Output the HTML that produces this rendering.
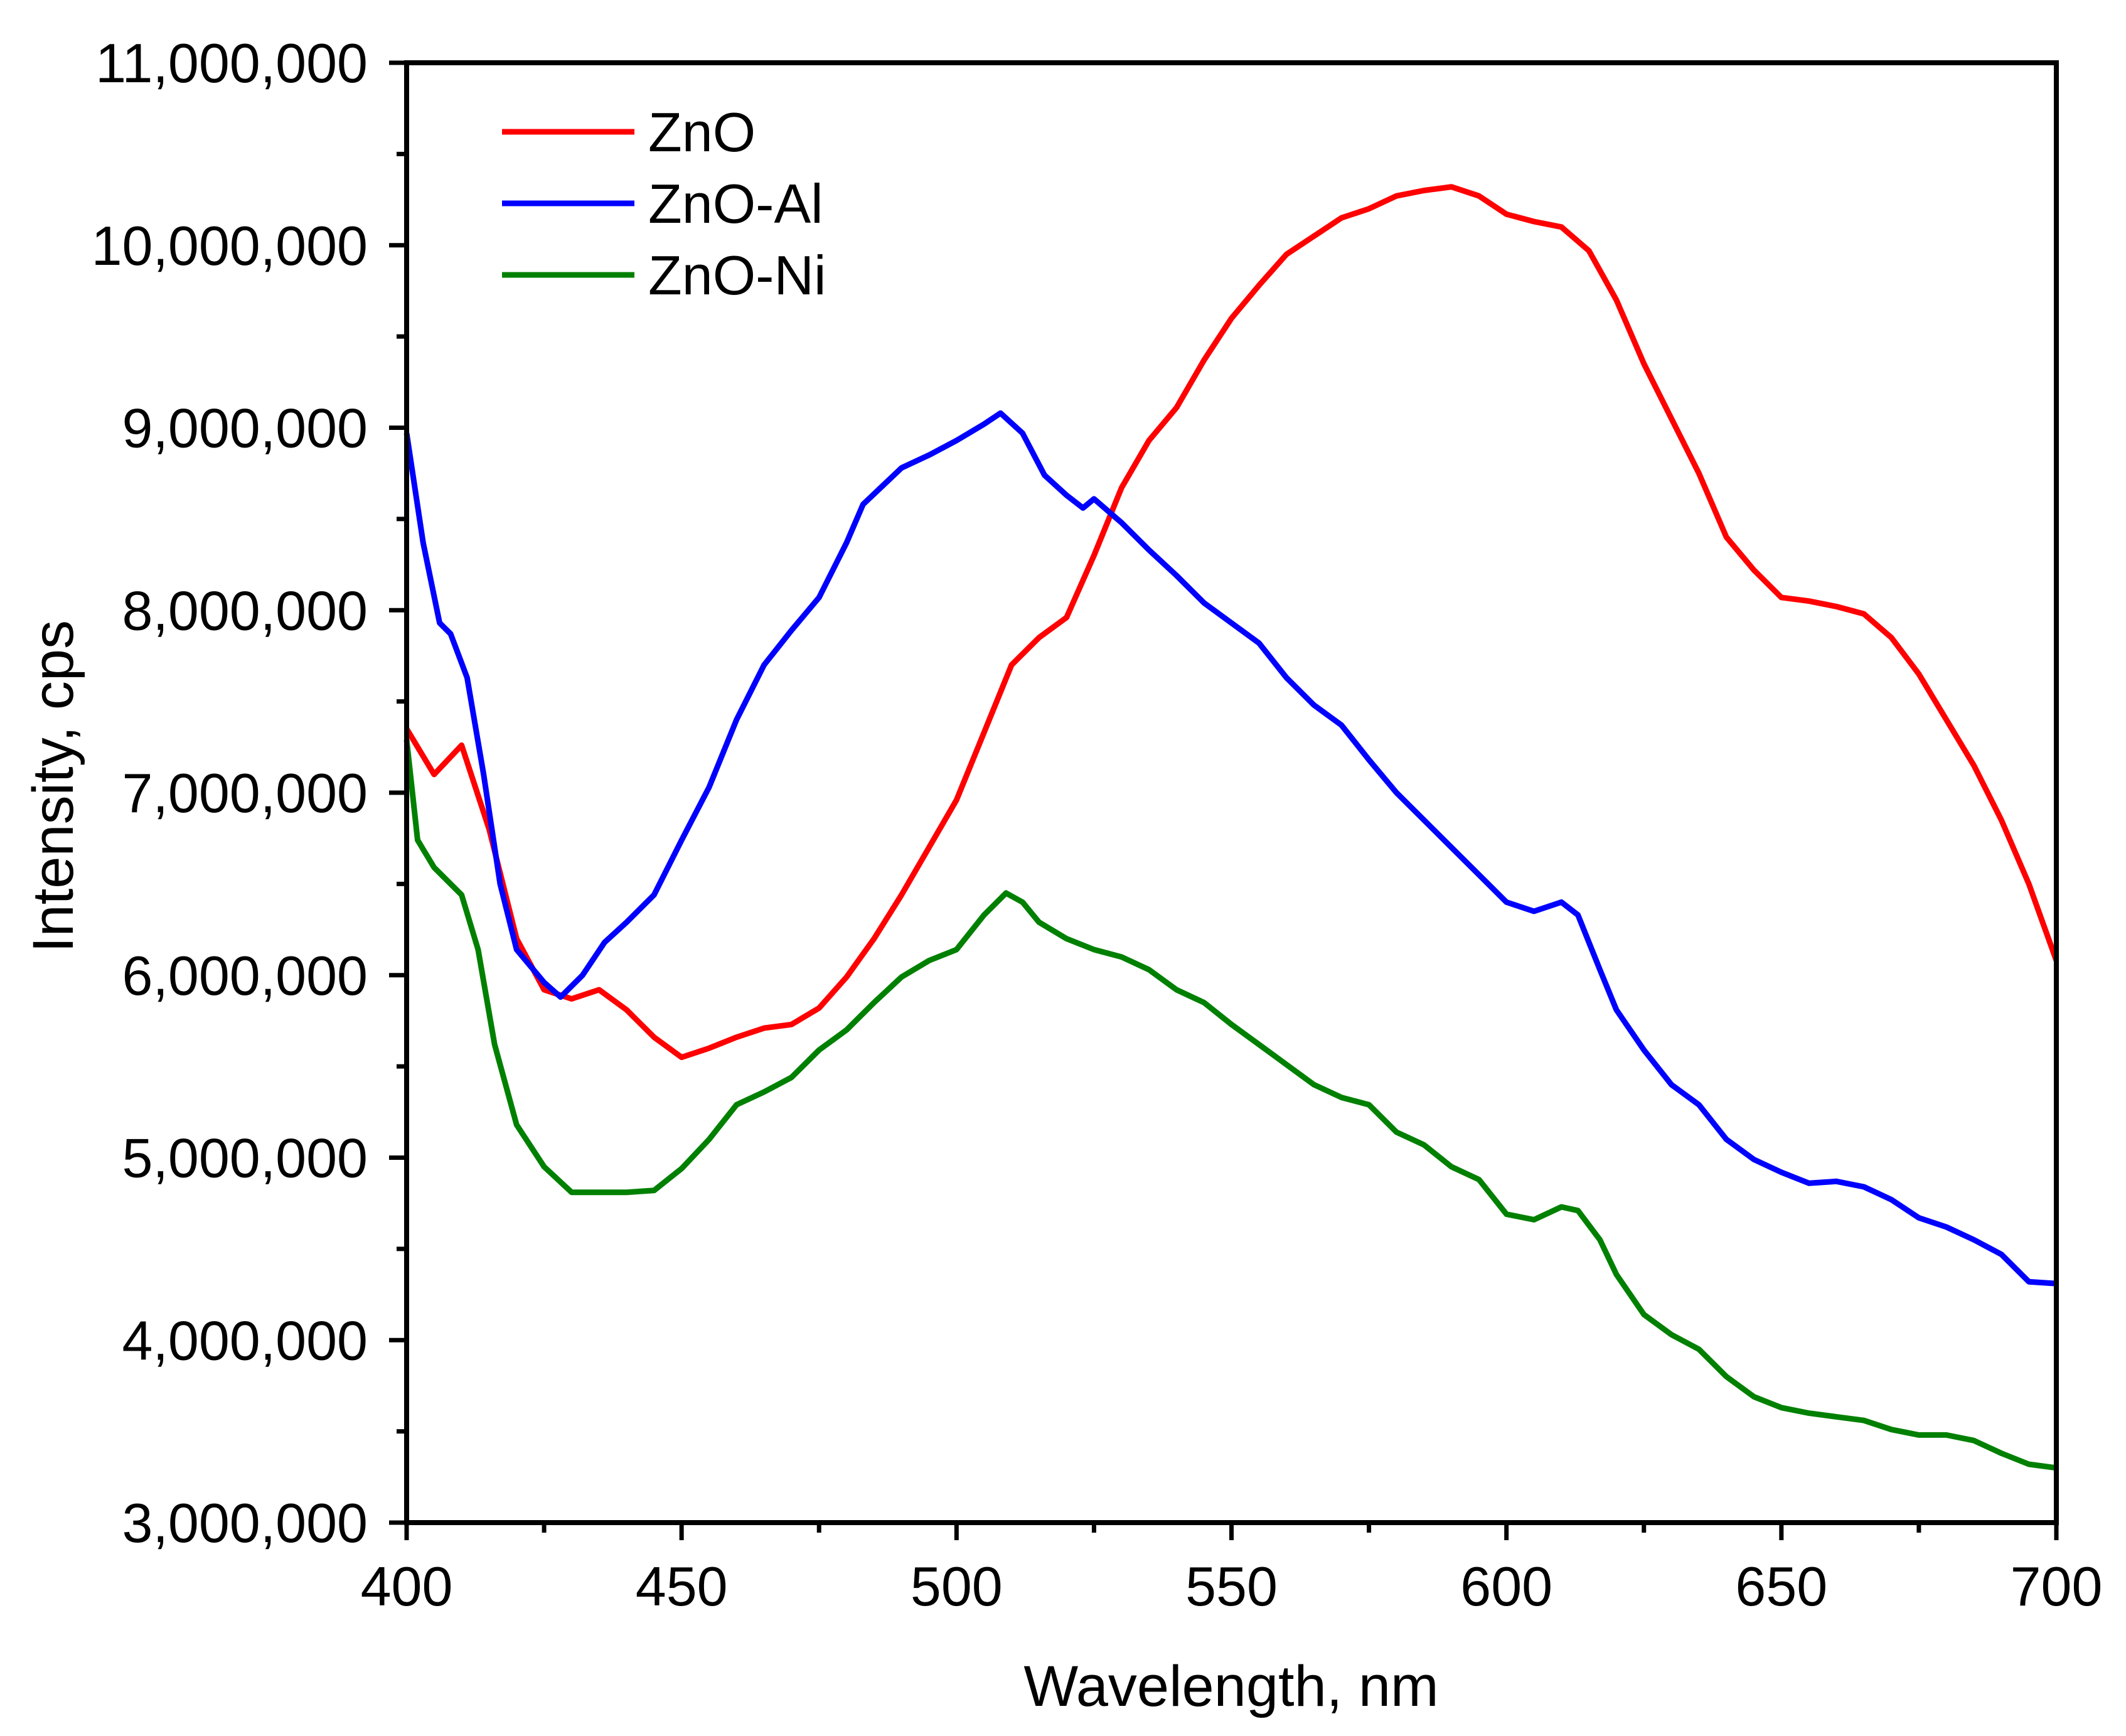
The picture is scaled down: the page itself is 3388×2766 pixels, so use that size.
<!DOCTYPE html>
<html><head><meta charset="utf-8"><style>
html,body{margin:0;padding:0;background:#fff;}
svg{display:block;font-family:"Liberation Sans",Arial,sans-serif;}
</style></head><body>
<svg id="chart" width="3388" height="2766" viewBox="0 0 3388 2766"></svg>
<script>
const wl = [400,405,410,415,420,425,430,435,440,445,450,455,460,465,470,475,480,485,490,495,500,505,510,515,520,525,530,535,540,545,550,555,560,565,570,575,580,585,590,595,600,605,610,615,620,625,630,635,640,645,650,655,660,665,670,675,680,685,690,695,700];
const znoVals = [7.35,7.1,7.26,6.8,6.2,5.92,5.87,5.92,5.81,5.66,5.55,5.6,5.66,5.71,5.73,5.82,5.99,6.2,6.44,6.7,6.96,7.33,7.70,7.85,7.96,8.3,8.67,8.93,9.11,9.37,9.6,9.78,9.95,10.05,10.15,10.2,10.27,10.3,10.32,10.27,10.17,10.13,10.1,9.97,9.7,9.35,9.05,8.75,8.4,8.22,8.07,8.05,8.02,7.98,7.85,7.65,7.4,7.15,6.85,6.5,6.08];
const alX = [400,403,406,408,411,414,417,420,425,428,432,436,440,445,450,455,460,465,470,475,480,483,490,495,500,505,508,512,516,520,523,525,530,535,540,545,550,555,560,565,570,575,580,585,590,595,600,605,610,613,617,620,625,630,635,640,645,650,655,660,665,670,675,680,685,690,695,700];
const alVals = [8.97,8.37,7.93,7.87,7.63,7.1,6.5,6.14,5.96,5.88,6.0,6.18,6.29,6.44,6.74,7.03,7.4,7.7,7.89,8.07,8.37,8.58,8.78,8.85,8.93,9.02,9.08,8.97,8.74,8.63,8.56,8.61,8.48,8.33,8.19,8.04,7.93,7.82,7.63,7.48,7.37,7.18,7.0,6.85,6.7,6.55,6.4,6.35,6.4,6.33,6.03,5.81,5.59,5.4,5.29,5.1,4.99,4.92,4.86,4.87,4.84,4.77,4.67,4.62,4.55,4.47,4.32,4.31];
const niX = [400,402,405,410,413,416,420,425,430,435,440,445,450,455,460,465,470,475,480,485,490,495,500,505,509,512,515,520,525,530,535,540,545,550,555,560,565,570,575,580,585,590,595,600,605,610,613,617,620,625,630,635,640,645,650,655,660,665,670,675,680,685,690,695,700];
const niVals = [7.29,6.74,6.59,6.44,6.14,5.62,5.18,4.95,4.81,4.81,4.81,4.82,4.94,5.1,5.29,5.36,5.44,5.59,5.7,5.85,5.99,6.08,6.14,6.33,6.45,6.4,6.29,6.2,6.14,6.1,6.03,5.92,5.85,5.73,5.62,5.51,5.4,5.33,5.29,5.14,5.07,4.95,4.88,4.69,4.66,4.73,4.71,4.55,4.36,4.14,4.03,3.95,3.8,3.69,3.63,3.6,3.58,3.56,3.51,3.48,3.48,3.45,3.38,3.32,3.3];
const xTicks = [400,450,500,550,600,650,700];
const yTicks = [3,4,5,6,7,8,9,10,11];
const yTickLabels = ["3,000,000","4,000,000","5,000,000","6,000,000","7,000,000","8,000,000","9,000,000","10,000,000","11,000,000"];
const seriesNames = ["ZnO","ZnO-Al","ZnO-Ni"];

const L=648,R=3277,T=100,B=2426;
const sx=v=>L+(v-400)/(700-400)*(R-L);
const sy=v=>B-(v-3)/(11-3)*(B-T);
const svg=document.getElementById('chart');
const NS='http://www.w3.org/2000/svg';
function mk(tag,attrs,parent){const e=document.createElementNS(NS,tag);for(const k in attrs)e.setAttribute(k,attrs[k]);(parent||svg).appendChild(e);return e;}

function series(xs,ys,color,name){
  const d=xs.map((x,i)=>(i?'L':'M')+sx(x).toFixed(1)+' '+sy(ys[i]).toFixed(1)).join(' ');
  const p=mk('path',{d:d,fill:'none',stroke:color,'stroke-width':9,'stroke-linejoin':'round'});
  
  
}
series(wl,znoVals,'#ff0000','zno-line');
series(alX,alVals,'#0000ff','zno-al-line');
series(niX,niVals,'#008000','zno-ni-line');

const box=mk('rect',{x:L,y:T,width:R-L,height:B-T,fill:'none',stroke:'#000','stroke-width':8});



for(let v=400;v<=700;v+=25){
  const major=(v%50===0);
  const t=mk('line',{x1:sx(v),x2:sx(v),y1:B,y2:B+(major?28:16),stroke:'#000','stroke-width':7});
  
  
}
xTicks.forEach(v=>{
  const t=mk('text',{x:sx(v),y:2558,'font-size':88,'text-anchor':'middle',fill:'#000'});
  t.textContent=v;
  
  
});
for(let v=3;v<=11.001;v+=0.5){
  const major=Math.abs(v-Math.round(v))<1e-6;
  const t=mk('line',{x1:L,x2:L-(major?28:16),y1:sy(v),y2:sy(v),stroke:'#000','stroke-width':7});
  
  
}
yTicks.forEach((v,i)=>{
  const t=mk('text',{x:586,y:sy(v)+31,'font-size':88,'text-anchor':'end',fill:'#000'});
  t.textContent=yTickLabels[i];
  
  
});
const xt=mk('text',{x:1962,y:2718,'font-size':92,'text-anchor':'middle',fill:'#000'});
xt.textContent='Wavelength, nm';


const yt=mk('text',{x:0,y:0,'font-size':92,'text-anchor':'middle',fill:'#000',transform:'translate(116,1253) rotate(-90)'});
yt.textContent='Intensity, cps';


const colors=['#ff0000','#0000ff','#008000'];
seriesNames.forEach((n,i)=>{
  const y=210+i*114;
  const g=mk('g',{});
  
  
  mk('line',{x1:800,x2:1011,y1:y,y2:y,stroke:colors[i],'stroke-width':9},g);
  const t=mk('text',{x:1033,y:y+31,'font-size':88,fill:'#000'},g);
  t.textContent=n;
});
</script>
</body></html>
